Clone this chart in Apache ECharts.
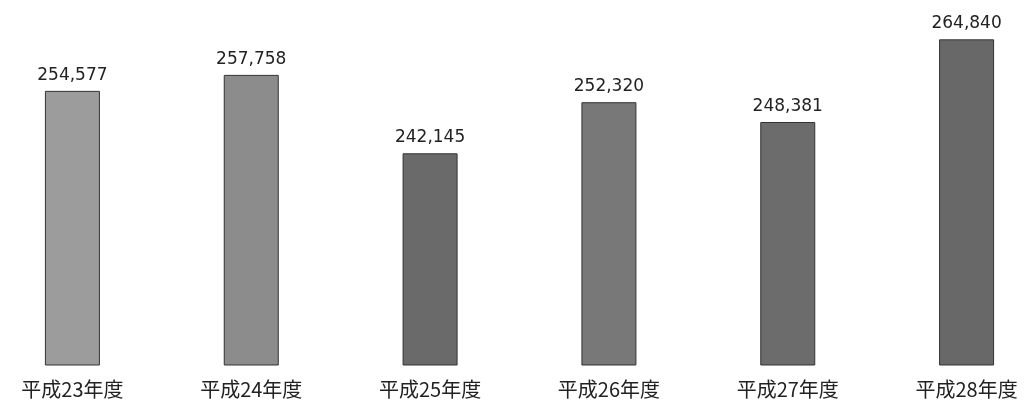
<!DOCTYPE html>
<html>
<head>
<meta charset="utf-8">
<script src="https://cdn.jsdelivr.net/npm/echarts@6/dist/echarts.min.js"></script>
<style>
html,body{margin:0;padding:0;background:#fff;overflow:hidden;width:1024px;height:403px;}
#chart{position:absolute;left:-17px;top:0;width:1073px;height:403px;}
</style>
</head>
<body>
<div id="chart"></div>
<script>
const categories = ['平成23年度','平成24年度','平成25年度','平成26年度','平成27年度','平成28年度'];
const values = [254577, 257758, 242145, 252320, 248381, 264840];
const barColors = ['#9c9c9c','#8c8c8c','#6a6a6a','#787878','#6c6c6c','#686868'];

const chart = echarts.init(document.getElementById('chart'));
chart.setOption({
  animation: false,
  grid: {left: 0, right: 0, top: 13.4, bottom: 38},
  xAxis: {
    type: 'category',
    data: categories,
    boundaryGap: true,
    axisLine: {show: false},
    axisTick: {show: false},
    axisLabel: {
      margin: 14,
      fontSize: 20,
      color: '#222',
      fontFamily: 'Noto Sans CJK JP',
      interval: 0
    }
  },
  yAxis: {
    type: 'value',
    min: 200000,
    max: 270000,
    show: false
  },
  series: [{
    type: 'bar',
    data: values,
    barWidth: 55,
    itemStyle: {
      color: function (p) { return barColors[p.dataIndex]; },
      borderColor: '#333',
      borderWidth: 1
    },
    label: {
      show: true,
      position: 'top',
      distance: 7,
      fontSize: 17,
      color: '#222',
      fontFamily: 'DejaVu Sans',
      formatter: function (p) { return p.value.toLocaleString('en-US'); }
    }
  }]
});
</script>
</body>
</html>
